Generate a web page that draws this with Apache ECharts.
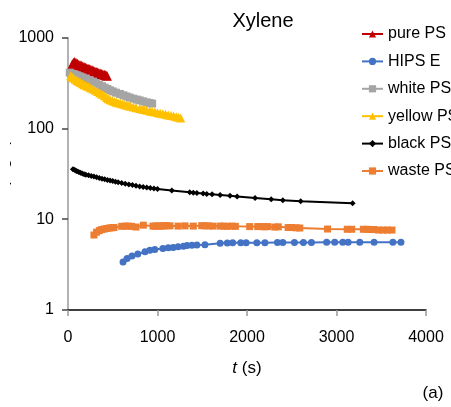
<!DOCTYPE html>
<html>
<head>
<meta charset="utf-8">
<script src="https://cdn.jsdelivr.net/npm/echarts@6/dist/echarts.min.js"></script>
<style>html,body{margin:0;padding:0;background:#fff;}#c{width:451px;height:407px;}</style>
</head>
<body>
<div id="c"></div>
<script>
var titleText = 'Xylene';
var seriesNames = ['pure PS', 'HIPS E', 'white PS', 'yellow PS', 'black PS', 'waste PS'];
var xTicks = [0, 1000, 2000, 3000, 4000];
var yTicks = [1, 10, 100, 1000];

var pureT = [30,45,60,75,90,105,120,135,150,165,180,195,210,225,240,255,270,285,300,315,330,345,360,375,390,405,420,435];
var pureV = [440,500,530,540,525,515,505,497,490,482,475,468,462,455,449,443,437,431,425,420,414,409,404,399,394,390,385,380];

var hipsT = [615,660,715,780,860,915,970,1060,1120,1175,1230,1290,1330,1385,1440,1530,1700,1780,1840,1930,1990,2110,2200,2340,2400,2530,2630,2720,2890,2980,3070,3130,3260,3420,3630,3720];
var hipsV = [3.37,3.7,3.93,4.15,4.37,4.55,4.64,4.76,4.84,4.88,4.97,5.05,5.12,5.18,5.2,5.23,5.45,5.48,5.5,5.5,5.5,5.52,5.52,5.55,5.55,5.55,5.55,5.55,5.56,5.56,5.56,5.56,5.56,5.56,5.56,5.56];

var whiteT = [20,45,70,100,130,160,200,240,280,310,345,380,410,440,470,500,535,580,620,655,690,730,770,800,840,880,910,940];
var whiteV = [412,400,392,385,375,365,355,341,328,316,304,292,281,272,263,256,248,240,232,225,219,213,208,204,199,194,191,188];

var yellowT = [30,45,60,80,100,120,140,160,180,205,230,255,280,305,330,355,380,405,430,450,470,495,520,540,560,585,610,635,660,680,700,730,760,800,825,850,880,915,940,970,1000,1030,1060,1090,1120,1150,1180,1210,1235,1260];
var yellowV = [382,370,360,349,338,329,320,311,303,295,288,280,272,263,255,246,238,229,220,213,207,202,198,195,192,189,186,183,180,178,176,172,169,166,164,162,159,156,154,152,149,147,145,143,141,139,137,135,133,130];

var blackT = [55,70,85,100,120,140,160,180,200,230,260,290,320,350,380,410,440,470,500,530,560,600,640,680,720,760,800,840,880,920,960,1000,1160,1360,1400,1440,1510,1550,1610,1700,1810,1890,2090,2270,2400,2600,3180];
var blackV = [35.5,35,34.4,33.8,33.2,32.6,32,31.4,31,30.5,30,29.5,29,28.5,28,27.5,27.1,26.7,26.3,25.9,25.5,25,24.6,24.2,23.8,23.4,23,22.7,22.4,22.1,21.8,21.5,20.7,19.8,19.6,19.4,19.2,19,18.8,18.5,18.1,17.8,17.1,16.6,16.2,15.8,15];

var wasteT = [290,320,350,376,406,432,461,488,514,600,637,674,711,760,842,950,975,1000,1025,1050,1075,1100,1140,1230,1307,1400,1494,1530,1570,1620,1700,1740,1780,1830,1870,2030,2120,2160,2200,2230,2310,2350,2460,2500,2550,2590,2900,3120,3170,3300,3340,3380,3420,3470,3520,3570,3620];
var wasteV = [6.7,7.2,7.5,7.7,7.8,7.9,8.0,8.05,8.1,8.35,8.4,8.4,8.35,8.2,8.6,8.4,8.4,8.4,8.45,8.4,8.45,8.5,8.45,8.4,8.45,8.4,8.5,8.45,8.45,8.4,8.4,8.4,8.35,8.4,8.35,8.3,8.3,8.3,8.25,8.3,8.2,8.25,8.1,8.1,8.05,8.0,7.8,7.75,7.75,7.75,7.75,7.7,7.7,7.6,7.6,7.6,7.6];

function pairs(t, v) { return t.map(function (x, i) { return [x, v[i]]; }); }

var colors = ['#C00000', '#4472C4', '#A5A5A5', '#FFC000', '#000000', '#ED7D31'];
var symbols = ['triangle', 'circle', 'rect', 'triangle', 'diamond', 'rect'];
var sizes = [10, 7, 8, 9, 6, 7];
var dataSets = [pairs(pureT, pureV), pairs(hipsT, hipsV), pairs(whiteT, whiteV), pairs(yellowT, yellowV), pairs(blackT, blackV), pairs(wasteT, wasteV)];

var font = 'Liberation Sans, Arial, sans-serif';
var chart = echarts.init(document.getElementById('c'), null, { renderer: 'canvas' });
var series = seriesNames.map(function (n, i) {
  return {
    name: n, type: 'line', data: dataSets[i],
    symbol: symbols[i], symbolSize: sizes[i], showSymbol: true,
    lineStyle: { color: colors[i], width: 2 },
    itemStyle: { color: colors[i] },
    animation: false
  };
});

chart.setOption({
  animation: false,
  textStyle: { fontFamily: font },
  grid: { left: 68, right: 25, top: 37.7, bottom: 97 },
  legend: {
    orient: 'vertical', left: 356, top: 21, itemWidth: 21, itemHeight: 9, itemGap: 11.4,
    data: seriesNames,
    textStyle: { fontSize: 16, color: '#000', fontFamily: font }
  },
  xAxis: {
    type: 'value', min: xTicks[0], max: xTicks[xTicks.length - 1], interval: 1000,
    name: '{i|t} (s)', nameLocation: 'middle', nameGap: 50,
    nameTextStyle: { fontSize: 17, color: '#000', rich: { i: { fontStyle: 'italic', fontSize: 17, color: '#000', fontFamily: font } } },
    axisLine: { lineStyle: { color: '#000', width: 1.5 } },
    axisTick: { show: true, length: 6, lineStyle: { color: '#999', width: 1.5 } },
    axisLabel: { fontSize: 16, color: '#000', margin: 20, formatter: function (v) { return String(v); } },
    splitLine: { show: false }
  },
  yAxis: {
    type: 'log', logBase: 10, min: yTicks[0], max: yTicks[yTicks.length - 1],
    axisLine: { show: true, lineStyle: { color: '#999', width: 1.5 } },
    axisTick: { show: true, length: 6, lineStyle: { color: '#444', width: 1.5 } },
    minorTick: { show: false },
    axisLabel: { fontSize: 16, color: '#000', margin: 14, formatter: function (v) { return String(Math.round(v)); } },
    splitLine: { show: false }
  },
  graphic: [
    { type: 'text', x: 263, y: 21, style: { text: titleText, fill: '#000', font: '20px ' + font, textAlign: 'center', textVerticalAlign: 'middle' } },
    { type: 'text', x: 433, y: 393, style: { text: '(a)', fill: '#000', font: '17px ' + font, textAlign: 'center', textVerticalAlign: 'middle' } },
    { type: 'text', x: 12, y: 172, rotation: Math.PI / 2, z: 1, style: { text: 'C (mg/L)', fill: '#000', font: '17px ' + font, textAlign: 'center', textVerticalAlign: 'bottom' } },
    { type: 'rect', shape: { x: 0, y: 0, width: 10, height: 407 }, z: 2, style: { fill: '#fff' } }
  ],
  series: series
});
</script>
</body>
</html>
